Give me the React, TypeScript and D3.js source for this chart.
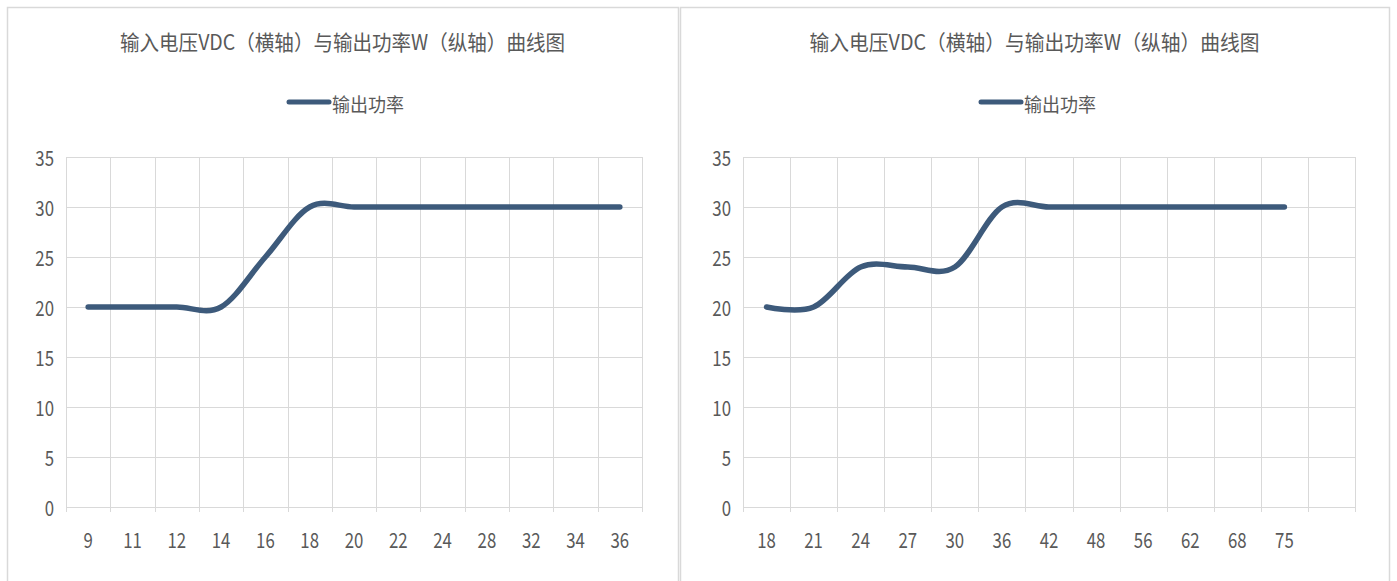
import React from "react";
import * as d3 from "d3";

const leftCategories = ["9", "11", "12", "14", "16", "18", "20", "22", "24", "28", "32", "34", "36"];
const leftValues: (number | null)[] = [20, 20, 20, 20, 25, 30, 30, 30, 30, 30, 30, 30, 30];
const rightCategories = ["18", "21", "24", "27", "30", "36", "42", "48", "56", "62", "68", "75", ""];
const rightValues: (number | null)[] = [20, 20, 24, 24, 24, 30, 30, 30, 30, 30, 30, 30, null];
const yTicks = [0, 5, 10, 15, 20, 25, 30, 35];
const titleText = "输入电压VDC（横轴）与输出功率W（纵轴）曲线图";
const seriesName = "输出功率";

const LINE = "#3d5a7b";
const GRID = "#d9d9d9";
const TEXT = "#595959";
const FONT = "'Noto Sans CJK SC', 'Noto Sans', sans-serif";

type PanelProps = {
  x0: number;
  x1: number;
  plotL: number;
  plotR: number;
  cats: string[];
  vals: (number | null)[];
  titleW: number;
};

function Panel({ x0, x1, plotL, plotR, cats, vals, titleW }: PanelProps) {
  const top = 157;
  const bottom = 507;
  const y = d3.scaleLinear().domain([0, 35]).range([bottom, top]);
  const keys = cats.map((c, i) => i + "|" + c);
  const x = d3.scaleBand<string>().domain(keys).range([plotL, plotR]).paddingInner(0).paddingOuter(0);
  const bw = x.bandwidth();
  const pts: [number, number][] = [];
  vals.forEach((v, i) => {
    if (v != null) pts.push([(x(keys[i]) as number) + bw / 2, y(v)]);
  });
  const line = d3.line().curve(d3.curveCardinal.tension(0))(pts) || "";
  const cx = (x0 + x1) / 2;
  const legLineW = 40;
  const legTextW = 72;
  const legTotal = legLineW + 3 + legTextW;
  const legStart = cx - legTotal / 2 + 4;
  return (
    <g>
      <rect x={x0 + 0.5} y={7.5} width={x1 - x0} height={600} fill="#fff" stroke={GRID} strokeWidth={1.5} />
      <text
        x={cx}
        y={41}
        textAnchor="middle"
        dominantBaseline="central"
        fontFamily={FONT}
        fontSize={21}
        fill={TEXT}
        textLength={titleW}
        lengthAdjust="spacingAndGlyphs"
      >
        {titleText}
      </text>
      <line x1={legStart} x2={legStart + legLineW} y1={102} y2={102} stroke={LINE} strokeWidth={5} strokeLinecap="round" />
      <text
        x={legStart + legLineW + 3}
        y={103}
        dominantBaseline="central"
        fontFamily={FONT}
        fontSize={19}
        fill={TEXT}
        textLength={legTextW}
        lengthAdjust="spacingAndGlyphs"
      >
        {seriesName}
      </text>
      {yTicks.map((t) => (
        <line key={"h" + t} x1={plotL} x2={plotR} y1={Math.round(y(t)) + 0.5} y2={Math.round(y(t)) + 0.5} stroke={GRID} strokeWidth={1} />
      ))}
      {keys.map((k) => (
        <line key={"v" + k} x1={Math.round(x(k) as number) + 0.5} x2={Math.round(x(k) as number) + 0.5} y1={top} y2={bottom + 5} stroke={GRID} strokeWidth={1} />
      ))}
      <line x1={Math.round(plotR) + 0.5} x2={Math.round(plotR) + 0.5} y1={top} y2={bottom + 5} stroke={GRID} strokeWidth={1} />
      {yTicks.map((t) => (
        <text
          key={"yl" + t}
          transform={`translate(${plotL - 12},${y(t)}) scale(0.8,1)`}
          textAnchor="end"
          dominantBaseline="central"
          fontFamily={FONT}
          fontSize={21}
          fill={TEXT}
        >
          {t}
        </text>
      ))}
      {keys.map((k, i) => (
        <text
          key={"xl" + k}
          transform={`translate(${(x(k) as number) + bw / 2},${539}) scale(0.8,1)`}
          textAnchor="middle"
          dominantBaseline="central"
          fontFamily={FONT}
          fontSize={21}
          fill={TEXT}
        >
          {cats[i]}
        </text>
      ))}
      <path d={line} fill="none" stroke={LINE} strokeWidth={5.5} strokeLinecap="round" strokeLinejoin="round" />
    </g>
  );
}

export default function App() {
  return (
    <svg
      width={1397}
      height={581}
      style={{ position: "absolute", left: 0, top: 0, background: "#fff" }}
    >
      <rect x={0} y={0} width={1397} height={581} fill="#fff" />
      <Panel x0={7} x1={678} plotL={66} plotR={642} cats={leftCategories} vals={leftValues} titleW={445} />
      <Panel x0={680} x1={1389} plotL={743} plotR={1355} cats={rightCategories} vals={rightValues} titleW={450} />
    </svg>
  );
}
